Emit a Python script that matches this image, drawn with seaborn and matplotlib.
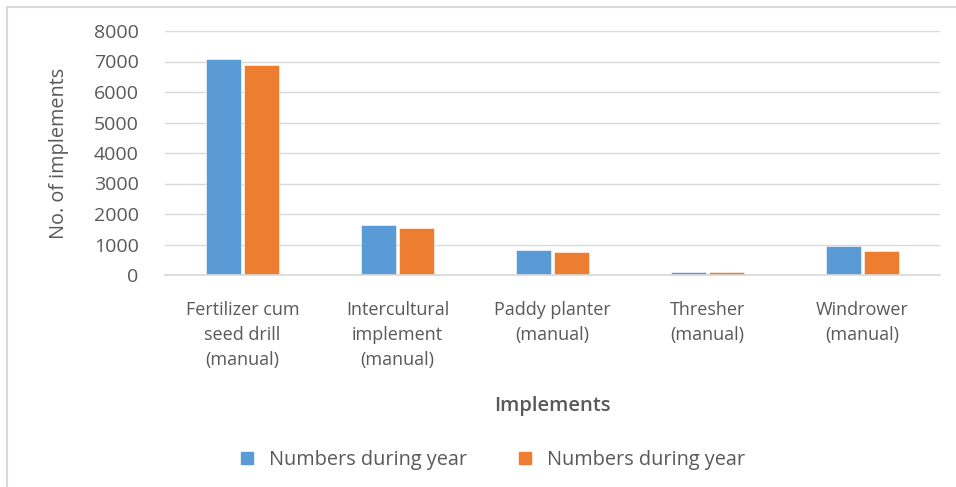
import matplotlib
matplotlib.use("Agg")
import matplotlib.pyplot as plt
import seaborn as sns
import pandas as pd
from matplotlib.lines import Line2D

categories = ["Fertilizer cum\nseed drill\n(manual)", "Intercultural\nimplement\n(manual)",
              "Paddy planter\n(manual)", "Thresher\n(manual)", "Windrower\n(manual)"]
series_names = ["Numbers during year", "Numbers during year"]
series1 = [7080, 1630, 820, 95, 960]
series2 = [6880, 1530, 750, 85, 790]
yticks = [0, 1000, 2000, 3000, 4000, 5000, 6000, 7000, 8000]

colors = ["#5B9BD5", "#ED7D31"]
grey = "#595959"

sns.set_theme(style="white")
plt.rcParams['font.family'] = ['Open Sans', 'DejaVu Sans']

df = pd.DataFrame({
    "cat": categories * 2,
    "val": series1 + series2,
    "series": ["s1"] * len(categories) + ["s2"] * len(categories),
})

fig = plt.figure(figsize=(9.56, 4.87), dpi=100)
ax = fig.add_axes([165/956, 1-275/487, (940-165)/956, (275-31)/487])
sns.barplot(data=df, x="cat", y="val", hue="series", palette=colors, saturation=1,
            width=0.5, gap=0.1, ax=ax, edgecolor="white", linewidth=0.4,
            errorbar=None, legend=False)

ax.set_ylim(0, 8000)
ax.set_yticks(yticks)
ax.set_yticklabels([str(t) for t in yticks], fontsize=14, color=grey)
ax.yaxis.grid(True, color="#D9D9D9", linewidth=1)
ax.set_axisbelow(True)
for s in ["top", "right", "left"]:
    ax.spines[s].set_visible(False)
ax.spines["bottom"].set_color("#D9D9D9")
ax.tick_params(axis="y", length=0, pad=19)
ax.tick_params(axis="x", length=0, pad=19)
for lbl in ax.get_xticklabels():
    lbl.set_fontsize(13)
    lbl.set_color(grey)
    lbl.set_linespacing(1.5)
ax.set_xlabel("Implements", fontsize=14.5, color=grey, fontweight="semibold", labelpad=19)
ax.set_ylabel("No. of implements", fontsize=14.3, color=grey, labelpad=18)

handles = [Line2D([0], [0], marker="s", linestyle="none", markersize=9,
                  markerfacecolor=c, markeredgecolor=c) for c in colors]
fig.legend(handles, series_names, loc="center", bbox_to_anchor=(486/956, 1-460/487),
           ncol=2, frameon=False, fontsize=14.3, labelcolor=grey, handletextpad=0.1,
           columnspacing=1.9)

# outer border (left and top)
fig.add_artist(Line2D([7/956, 7/956], [0, 1-7/487], transform=fig.transFigure,
                      color="#D9D9D9", linewidth=1.5))
fig.add_artist(Line2D([7/956, 1], [1-7/487, 1-7/487], transform=fig.transFigure,
                      color="#D9D9D9", linewidth=1.5))

fig.savefig("out.png", dpi=100)
